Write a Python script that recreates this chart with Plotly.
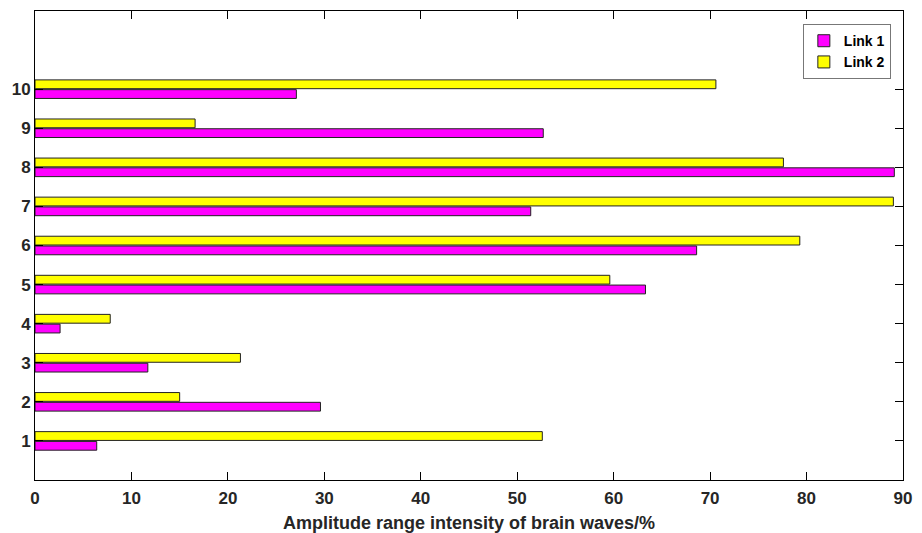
import plotly.graph_objects as go

categories = [1, 2, 3, 4, 5, 6, 7, 8, 9, 10]
link1 = [6.4, 29.6, 11.7, 2.6, 63.3, 68.6, 51.4, 89.1, 52.7, 27.1]
link2 = [52.6, 15.0, 21.3, 7.8, 59.6, 79.3, 89.0, 77.6, 16.6, 70.6]
x_ticks = [0, 10, 20, 30, 40, 50, 60, 70, 80, 90]
x_label = "Amplitude range intensity of brain waves/%"

font_family = "Liberation Sans, Arial, Helvetica, sans-serif"

fig = go.Figure()
fig.add_trace(go.Bar(
    y=categories, x=link1, orientation="h", name="Link 1",
    marker=dict(color="#FF00FF", line=dict(color="#222222", width=1)),
))
fig.add_trace(go.Bar(
    y=categories, x=link2, orientation="h", name="Link 2",
    marker=dict(color="#FFFF00", line=dict(color="#222222", width=1)),
))

axis_common = dict(
    showline=True, linecolor="black", linewidth=1, mirror="ticks",
    ticks="inside", ticklen=8, tickcolor="black", tickwidth=1,
    showgrid=False, zeroline=False, automargin=False,
    tickfont=dict(family=font_family, size=17, color="#262626", weight="bold"),
)

fig.update_layout(
    width=922, height=533,
    margin=dict(l=35, r=19, t=11, b=53),
    plot_bgcolor="white", paper_bgcolor="white",
    barmode="group", bargap=0.5, bargroupgap=0.1,
    xaxis=dict(range=[0, 90], tickvals=x_ticks, ticklabelstandoff=3,
               title=dict(text=x_label, standoff=10,
                          font=dict(family=font_family, size=18, color="#262626", weight="bold")),
               **axis_common),
    yaxis=dict(range=[0, 12], tickvals=categories, **axis_common),
    legend=dict(x=0.986, y=0.972, xanchor="right", yanchor="top",
                bordercolor="#777777", borderwidth=1, bgcolor="white",
                traceorder="normal", tracegroupgap=0, itemwidth=30,
                font=dict(family=font_family, size=14, color="black", weight="bold")),
    showlegend=True,
)

fig.write_html("out.html")
